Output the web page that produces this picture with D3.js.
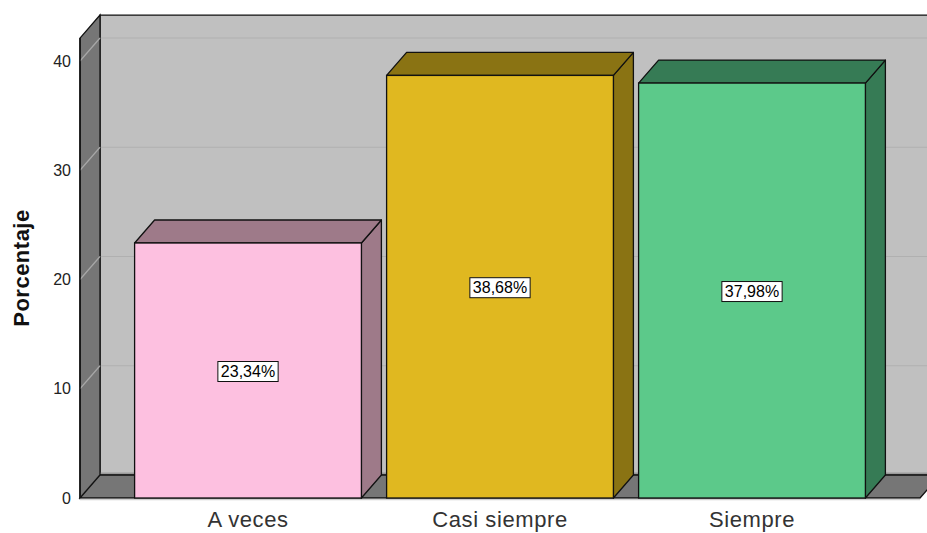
<!DOCTYPE html>
<html>
<head>
<meta charset="utf-8">
<script src="https://cdn.jsdelivr.net/npm/d3@7"></script>
<style>
  html, body { margin: 0; padding: 0; background: #ffffff; }
  svg { display: block; font-family: "Liberation Sans", Arial, sans-serif; }
</style>
</head>
<body>
<svg id="chart" width="927" height="533"></svg>
<script>
// ---- data ----
const categories = ["A veces", "Casi siempre", "Siempre"];
const values = [23.34, 38.68, 37.98];
const valueLabels = ["23,34%", "38,68%", "37,98%"];
const yTicks = [0, 10, 20, 30, 40];
const frontColors = ["#fdc0e0", "#e0b820", "#5cc98a"];
const darkColors = ["#9e7a89", "#8a7313", "#367b55"];
const axisTitle = "Porcentaje";

// ---- layout ----
const W = 927, H = 533;
const depthX = 20, depthY = -23;
const svg = d3.select("#chart");

const x = d3.scaleBand().domain(categories).range([80, 920]).paddingInner(0.1).paddingOuter(0.2167);
const y = d3.scaleLinear().domain([0, 40]).range([498, 61]);
const yTop = 42.1;

const x0 = x.range()[0], x1 = x.range()[1];
const yb = y(0), yt = y(yTop);

const poly = pts => "M" + pts.map(p => p.join(",")).join("L") + "Z";

// back wall
svg.append("path")
  .attr("d", poly([[x0 + depthX, yt + depthY], [W + 40, yt + depthY], [W + 40, yb + depthY], [x0 + depthX, yb + depthY]]))
  .attr("fill", "#c0c0c0").attr("stroke", "#111").attr("stroke-width", 1.3);

// back wall gridlines
svg.append("g").selectAll("line").data(yTicks.filter(d => d > 0)).join("line")
  .attr("x1", x0 + depthX).attr("x2", W)
  .attr("y1", d => y(d) + depthY).attr("y2", d => y(d) + depthY)
  .attr("stroke", "#b0b0b0").attr("stroke-width", 1.2);

// strip at bottom of back wall
svg.append("line")
  .attr("x1", x0 + depthX).attr("x2", W)
  .attr("y1", yb + depthY - 1.5).attr("y2", yb + depthY - 1.5)
  .attr("stroke", "#9a9a9a").attr("stroke-width", 2);

// left wall
svg.append("path")
  .attr("d", poly([[x0, yt], [x0 + depthX, yt + depthY], [x0 + depthX, yb + depthY], [x0, yb]]))
  .attr("fill", "#767676").attr("stroke", "#111").attr("stroke-width", 1.3);

// left wall gridlines (diagonal)
svg.append("g").selectAll("line").data(yTicks).join("line")
  .attr("x1", x0).attr("x2", x0 + depthX)
  .attr("y1", d => y(d)).attr("y2", d => y(d) + depthY)
  .attr("stroke", "#a8a8a8").attr("stroke-width", 1.2);

// floor
svg.append("path")
  .attr("d", poly([[x0, yb], [x0 + depthX, yb + depthY], [x1 + depthX, yb + depthY], [x1, yb]]))
  .attr("fill", "#767676").attr("stroke", "#111").attr("stroke-width", 1.3);
svg.append("line")
  .attr("x1", x0).attr("x2", x1).attr("y1", yb + 1.5).attr("y2", yb + 1.5)
  .attr("stroke", "#cfcfcf").attr("stroke-width", 1.5);

// redraw left wall front edge
svg.append("line").attr("x1", x0).attr("x2", x0).attr("y1", yt).attr("y2", yb)
  .attr("stroke", "#111").attr("stroke-width", 1.5);

// bars
const bars = svg.append("g").selectAll("g").data(categories).join("g");
bars.each(function (c, i) {
  const g = d3.select(this);
  const bx0 = x(c), bx1 = x(c) + x.bandwidth();
  const by = y(values[i]);
  // side
  g.append("path")
    .attr("d", poly([[bx1, by], [bx1 + depthX, by + depthY], [bx1 + depthX, yb + depthY], [bx1, yb]]))
    .attr("fill", darkColors[i]).attr("stroke", "#111").attr("stroke-width", 1.3).attr("stroke-linejoin", "round");
  // top
  g.append("path")
    .attr("d", poly([[bx0, by], [bx0 + depthX, by + depthY], [bx1 + depthX, by + depthY], [bx1, by]]))
    .attr("fill", darkColors[i]).attr("stroke", "#111").attr("stroke-width", 1.3).attr("stroke-linejoin", "round");
  // front
  g.append("rect")
    .attr("x", bx0).attr("y", by).attr("width", bx1 - bx0).attr("height", yb - by)
    .attr("fill", frontColors[i]).attr("stroke", "#111").attr("stroke-width", 1.3);
  // value label
  const cx = bx0 + x.bandwidth() / 2, cy = (by + yb) / 2 + 1;
  const t = g.append("text")
    .attr("x", cx).attr("y", cy).attr("text-anchor", "middle").attr("dy", "0.36em")
    .attr("font-size", 16).attr("fill", "#000").text(valueLabels[i]);
  const bb = t.node().getBBox();
  g.insert("rect", "text")
    .attr("x", bb.x - 3).attr("y", cy - 10).attr("width", bb.width + 6).attr("height", 20)
    .attr("fill", "#ffffff").attr("stroke", "#111").attr("stroke-width", 1);
});

// y axis tick labels
const yAxis = d3.axisLeft(y).tickValues(yTicks).tickSize(0).tickPadding(9).tickFormat(d3.format("d"));
const ga = svg.append("g").attr("transform", `translate(${x0},0)`).call(yAxis);
ga.select(".domain").remove();
ga.selectAll("text").attr("font-size", 16).attr("fill", "#222").attr("font-family", "Liberation Sans, Arial, sans-serif");

// x axis labels
const xAxis = d3.axisBottom(x).tickSize(0).tickPadding(13);
const gx = svg.append("g").attr("transform", `translate(0,${yb})`).call(xAxis);
gx.select(".domain").remove();
gx.selectAll("text").attr("font-size", 22).attr("fill", "#333").attr("letter-spacing", "0.6px")
  .attr("font-family", "Liberation Sans, Arial, sans-serif");

// y title
svg.append("text")
  .attr("transform", `translate(29,${(yt + yb) / 2}) rotate(-90)`)
  .attr("text-anchor", "middle").attr("font-size", 22).attr("font-weight", "bold")
  .attr("letter-spacing", "0.5px").attr("fill", "#111").text(axisTitle);
</script>
</body>
</html>
